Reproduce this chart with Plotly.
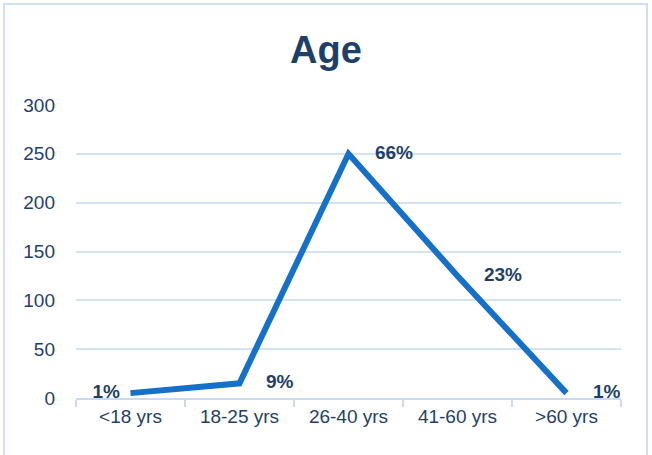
import plotly.graph_objects as go

categories = ["<18 yrs", "18-25 yrs", "26-40 yrs", "41-60 yrs", ">60 yrs"]
values = [5, 15, 250, 125, 5]
labels = ["1%", "9%", "66%", "23%", "1%"]
y_ticks = [0, 50, 100, 150, 200, 250, 300]

navy = "#1F3F6B"
font_fam = "Liberation Sans Narrow, Arial Narrow, Liberation Sans, Arial, sans-serif"

positions = ["middle left", "middle right", "middle right", "middle right", "middle right"]
texts = [("  " + t + "  ") if p == "middle left" else ("     " + t) for t, p in zip(labels, positions)]

fig = go.Figure()
fig.add_trace(go.Scatter(
    x=categories, y=values, mode="lines+text",
    line=dict(color="#1470C8", width=6),
    text=texts,
    textposition=positions,
    textfont=dict(family=font_fam, size=19, color=navy, weight="bold"),
    cliponaxis=False, hoverinfo="skip",
))

fig.update_layout(
    width=652, height=455,
    margin=dict(l=76, r=31, t=105, b=57),
    paper_bgcolor="white", plot_bgcolor="white",
    showlegend=False,
    title=dict(text="<b>Age</b>", x=0.5, xref="container", xanchor="center",
               y=1 - 50/455, yref="container", yanchor="middle",
               font=dict(family=font_fam, size=38, color=navy)),
    font=dict(family=font_fam, size=19, color=navy),
    xaxis=dict(type="category", range=[-0.5, 4.5], showgrid=False,
               showline=True, linecolor="#C9DBF0", linewidth=2,
               ticks="outside", tickcolor="#C9DBF0", ticklen=7, tickwidth=2,
               tickson="boundaries",
               tickfont=dict(family=font_fam, size=19, color=navy)),
    yaxis=dict(range=[0, 300], tickvals=y_ticks, showgrid=True,
               gridcolor="#D3E3F4", gridwidth=2, zeroline=False,
               showline=False, ticks="", ticklabelstandoff=20,
               tickfont=dict(family=font_fam, size=19, color=navy)),
    shapes=[dict(type="rect", xref="paper", yref="paper",
                 x0=-72/545, x1=1 + 26/545, y0=-60/293, y1=1 + 101/293,
                 line=dict(color="#CFE0F3", width=2), fillcolor="rgba(0,0,0,0)",
                 layer="below")],
)

fig.write_html("out.html", config={"displayModeBar": False},
               post_script="document.body.style.margin='0';document.body.style.overflow='hidden';")
